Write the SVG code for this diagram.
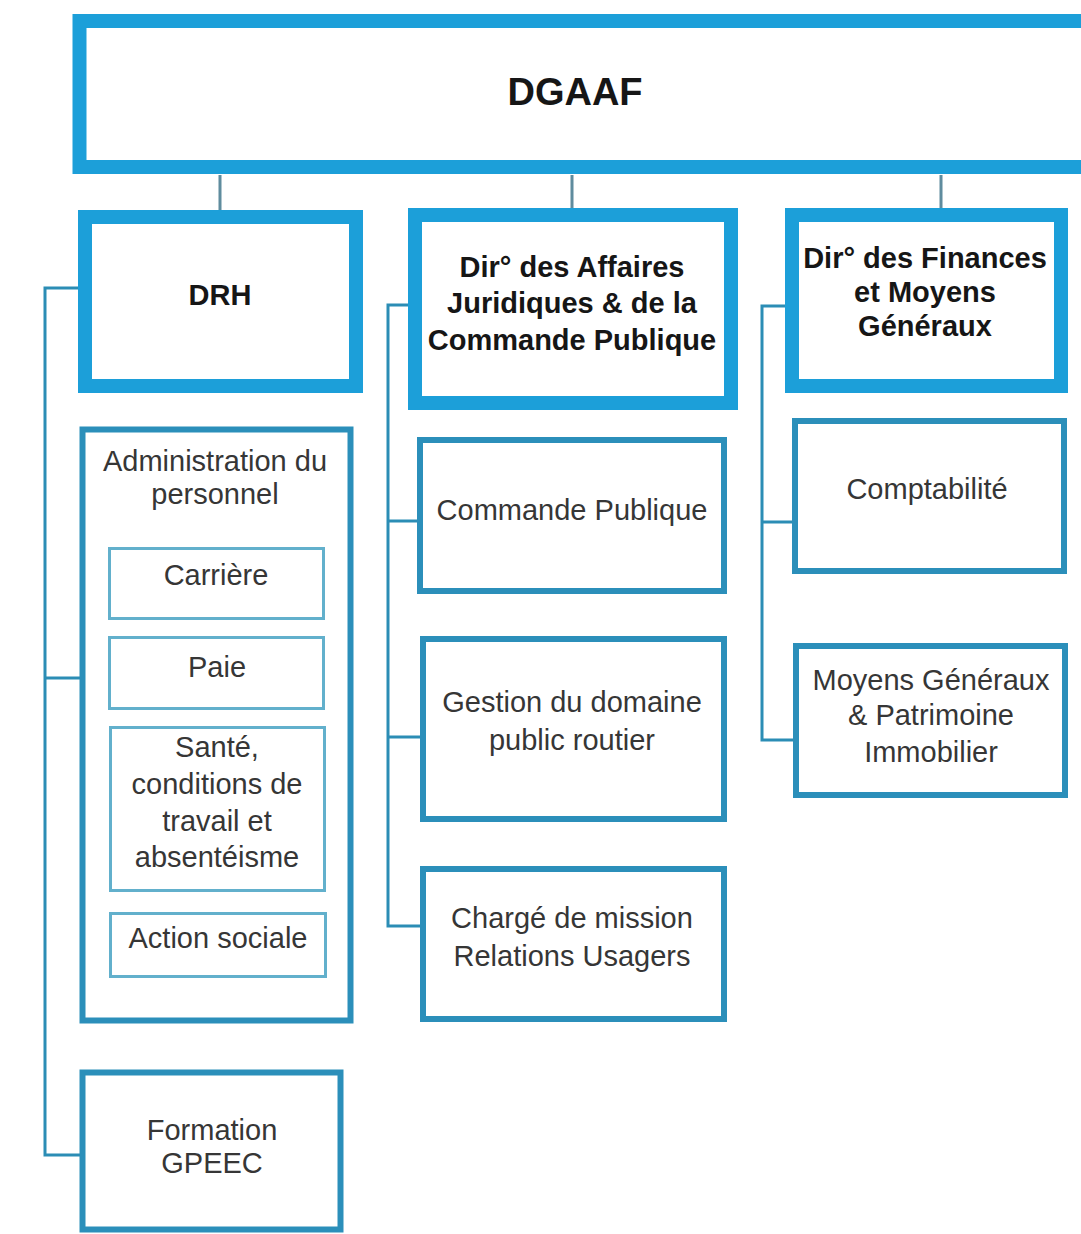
<svg xmlns="http://www.w3.org/2000/svg" width="1081" height="1234" viewBox="0 0 1081 1234">
<style>
.thick{fill:#fff;stroke:#1c9fd9;stroke-width:14}
.box{fill:#fff;stroke:#2b8fba;stroke-width:6}
.inner{fill:#fff;stroke:#62b0cc;stroke-width:3}
.conn{fill:none;stroke:#2b8db5;stroke-width:3}
.b{font-family:"Liberation Sans",Arial,sans-serif;font-weight:bold;fill:#161616;text-anchor:middle}
.r{font-family:"Liberation Sans",Arial,sans-serif;font-size:29px;fill:#363636;text-anchor:middle}
</style>
<rect width="1081" height="1234" fill="#fff"/>
<g id="connectors">
<path class="conn" stroke="#5f8c9e" style="stroke:#5f8c9e" d="M220 175V210M572 175V210M941 175V210"/>
<path class="conn" d="M78 288H45V1155H80M45 678H80"/>
<path class="conn" d="M408 305H388V926H420M388 521H417M388 737H420"/>
<path class="conn" d="M785 306H762V740H793M762 522H792"/>
</g>
<g id="dgaaf">
<rect class="thick" x="79.5" y="21" width="1020" height="146" stroke-width="16"/>
<text class="b" x="575" y="105" font-size="38">DGAAF</text>
</g>
<g id="drh">
<rect class="thick" x="85" y="217" width="271" height="169"/>
<text class="b" x="220" y="305" font-size="29">DRH</text>
</g>
<g id="daj">
<rect class="thick" x="415" y="215" width="316" height="188"/>
<text class="b" x="572" y="277" font-size="29">Dir° des Affaires</text>
<text class="b" x="572" y="313" font-size="29">Juridiques &amp; de la</text>
<text class="b" x="572" y="350" font-size="29">Commande Publique</text>
</g>
<g id="dfmg">
<rect class="thick" x="792" y="215" width="269" height="171"/>
<text class="b" x="925" y="268" font-size="29">Dir° des Finances</text>
<text class="b" x="925" y="302" font-size="29">et Moyens</text>
<text class="b" x="925" y="336" font-size="29">Généraux</text>
</g>
<g id="admin">
<rect class="box" x="82.5" y="429.5" width="268" height="591" stroke-width="5"/>
<text class="r" x="215" y="471">Administration du</text>
<text class="r" x="215" y="504">personnel</text>
</g>
<g id="carriere">
<rect class="inner" x="109.5" y="548.5" width="214" height="70"/>
<text class="r" x="216" y="585">Carrière</text>
</g>
<g id="paie">
<rect class="inner" x="109.5" y="637.5" width="214" height="71"/>
<text class="r" x="217" y="677">Paie</text>
</g>
<g id="sante">
<rect class="inner" x="110.5" y="727.5" width="214" height="163"/>
<text class="r" x="217" y="757">Santé,</text>
<text class="r" x="217" y="794">conditions de</text>
<text class="r" x="217" y="831">travail et</text>
<text class="r" x="217" y="867">absentéisme</text>
</g>
<g id="action">
<rect class="inner" x="110.5" y="913.5" width="215" height="63"/>
<text class="r" x="218" y="948">Action sociale</text>
</g>
<g id="formation">
<rect class="box" x="82.5" y="1072.5" width="258" height="157" stroke-width="5"/>
<text class="r" x="212" y="1140">Formation</text>
<text class="r" x="212" y="1173">GPEEC</text>
</g>
<g id="commande">
<rect class="box" x="420" y="440" width="304" height="151"/>
<text class="r" x="572" y="520">Commande Publique</text>
</g>
<g id="gestion">
<rect class="box" x="423" y="639" width="301" height="180"/>
<text class="r" x="572" y="712">Gestion du domaine</text>
<text class="r" x="572" y="750">public routier</text>
</g>
<g id="charge">
<rect class="box" x="423" y="869" width="301" height="150"/>
<text class="r" x="572" y="928">Chargé de mission</text>
<text class="r" x="572" y="966">Relations Usagers</text>
</g>
<g id="comptabilite">
<rect class="box" x="795" y="421" width="269" height="150"/>
<text class="r" x="927" y="499">Comptabilité</text>
</g>
<g id="moyens">
<rect class="box" x="796" y="646" width="269" height="149"/>
<text class="r" x="931" y="690">Moyens Généraux</text>
<text class="r" x="931" y="725">&amp; Patrimoine</text>
<text class="r" x="931" y="762">Immobilier</text>
</g>
</svg>
